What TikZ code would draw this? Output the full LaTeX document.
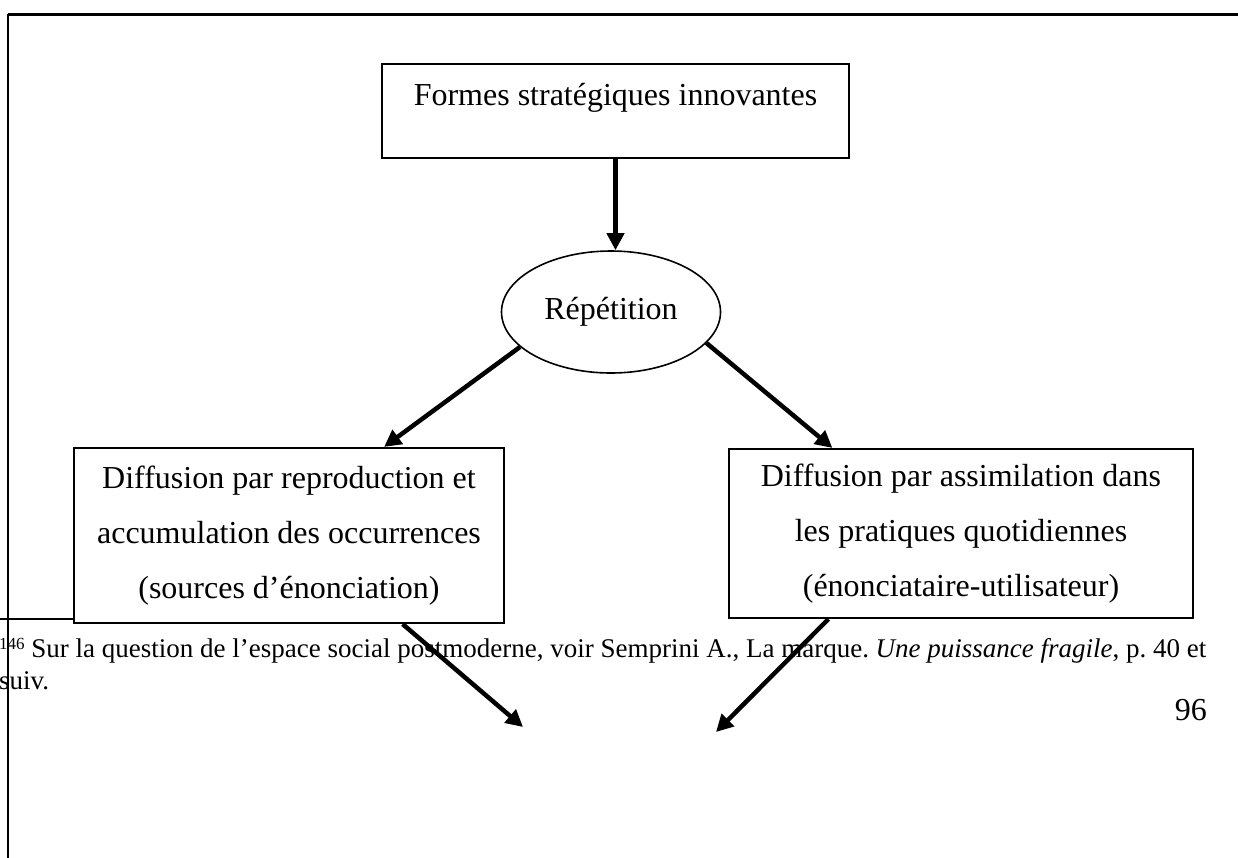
\documentclass[tikz,border=0pt]{standalone}
\usepackage{fontspec}
\setmainfont{Liberation Serif}
\usetikzlibrary{arrows.meta,shapes.geometric,calc}
\frenchspacing
\begin{document}
\begin{tikzpicture}[x=1pt,y=-1pt,
  boxnode/.style={draw,line width=2.2pt,fill=white,inner sep=0pt,align=center,font=\fontsize{32}{55}\selectfont},
  ellnode/.style={draw,ellipse,line width=1.6pt,fill=white,inner sep=0pt,minimum width=219pt,minimum height=122pt,font=\fontsize{32}{38}\selectfont},
  arr/.style={line width=4.5pt,-{Triangle[length=17pt,width=17pt]}},
  fnnode/.style={inner sep=0pt,anchor=base west,font=\fontsize{27}{31}\selectfont},
]
\useasboundingbox (0,0) rectangle (1238,857);
% footnote area
\node[fnnode] (fn1) at (-1,657) {\raisebox{8pt}{\fontsize{17}{17}\selectfont 146} Sur la question de l’espace social postmoderne, voir Semprini A., La marque. \textit{Une puissance fragile}, p. 40 et};
\node[fnnode] (fn2) at (-1,689) {suiv.};
\node[inner sep=0pt,anchor=base east,font=\fontsize{32}{38}\selectfont] (pg) at (1207,720) {96};
\coordinate (ruleA) at (-1,619);
\coordinate (ruleB) at (74,619);
\draw[line width=2.2pt] (ruleA) -- (ruleB);
% nodes
\node[boxnode,minimum width=467pt,text height=41pt,text depth=53pt,anchor=base] (top) at (615.5,105) {Formes stratégiques innovantes};
\node[ellnode] (ell) at (611,312) {Répétition};
\node[boxnode,minimum width=430pt,minimum height=175pt] (lbox) at (289,535.5) {Diffusion par reproduction et\\accumulation des occurrences\\(sources d’énonciation)};
\node[boxnode,minimum width=464pt,minimum height=169pt] (rbox) at (961,533.5) {Diffusion par assimilation dans\\les pratiques quotidiennes\\(énonciataire-utilisateur)};
% connectors
\draw[arr] (top.south) -- (top.south |- ell.north);
\draw[arr] (ell.201.5) -- ($(lbox.north west)!0.72!(lbox.north east)$);
\draw[arr] (ell.342) -- ($(rbox.north west)!0.224!(rbox.north east)$);
\coordinate (lend) at (523,727);
\coordinate (rend) at (716,732);
\draw[arr] ($(lbox.south west)!0.763!(lbox.south east)$) -- (lend);
\draw[arr] ($(rbox.south west)!0.2155!(rbox.south east)$) -- (rend);
% page frame
\coordinate (frTL) at (8,14);
\coordinate (frTR) at (1240,14);
\coordinate (frBL) at (8,860);
\draw[line width=3pt] (frTL) -- (frTR);
\draw[line width=2.2pt] (frTL) -- (frBL);
\end{tikzpicture}
\end{document}
